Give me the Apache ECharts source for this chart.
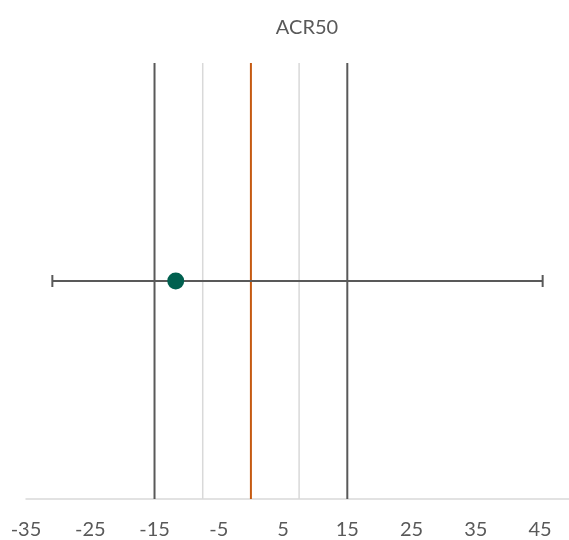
<!DOCTYPE html>
<html>
<head>
<meta charset="utf-8">
<script src="https://cdn.jsdelivr.net/npm/echarts@6/dist/echarts.min.js"></script>
<style>
  html, body { margin: 0; padding: 0; background: #fff; }
  #chart { width: 569px; height: 540px; }
</style>
</head>
<body>
<div id="chart"></div>
<script>
// Estimate with confidence interval
const chartTitle = 'ACR50';
const estimate = -11.7;
const ciLower = -30.9;
const ciUpper = 45.4;
const rowY = 1;

// Reference lines: margins and zero line
const marginOuter = [-15, 15];
const marginInner = [-7.5, 7.5];
const zeroLine = 0;

// Axis settings (the axis is cut at the right edge of the canvas)
const xMin = -35;
const xMax = 49.5;
const xStep = 10;
const yMin = 0;
const yMax = 2;

const grey = '#595959';
const font = 'Lato, "Open Sans", sans-serif';

function vline(x, color, width) {
  return {
    type: 'line',
    data: [[x, yMin], [x, yMax]],
    symbol: 'none',
    lineStyle: { color: color, width: width },
    silent: true,
    z: 1
  };
}

const chart = echarts.init(document.getElementById('chart'), null, { renderer: 'canvas' });

chart.setOption({
  animation: false,
  title: {
    text: chartTitle,
    left: 302,
    textAlign: 'center',
    top: 13,
    textStyle: { color: grey, fontFamily: font, fontSize: 20, fontWeight: 'normal' }
  },
  grid: { left: 26, right: 0, top: 63, bottom: 40, containLabel: false },
  xAxis: {
    type: 'value',
    min: xMin,
    max: xMax,
    interval: xStep,
    axisLine: { show: true, lineStyle: { color: '#d9d9d9', width: 1.5 } },
    axisTick: { show: false },
    splitLine: { show: false },
    axisLabel: {
      color: grey, fontFamily: font, fontSize: 20, margin: 21,
      showMaxLabel: false
    }
  },
  yAxis: {
    type: 'value',
    min: yMin,
    max: yMax,
    show: false
  },
  series: [
    vline(marginOuter[0], grey, 2),
    vline(marginOuter[1], grey, 2),
    vline(marginInner[0], '#d9d9d9', 1.5),
    vline(marginInner[1], '#d9d9d9', 1.5),
    vline(zeroLine, '#c55a11', 2),
    {
      type: 'custom',
      data: [[ciLower, ciUpper, rowY]],
      z: 3,
      renderItem: function (params, api) {
        const lo = api.coord([api.value(0), api.value(2)]);
        const hi = api.coord([api.value(1), api.value(2)]);
        const cap = 6;
        const style = { stroke: grey, lineWidth: 2 };
        return {
          type: 'group',
          children: [
            { type: 'line', shape: { x1: lo[0], y1: lo[1], x2: hi[0], y2: hi[1] }, style: style },
            { type: 'line', shape: { x1: lo[0], y1: lo[1] - cap, x2: lo[0], y2: lo[1] + cap }, style: style },
            { type: 'line', shape: { x1: hi[0], y1: hi[1] - cap, x2: hi[0], y2: hi[1] + cap }, style: style }
          ]
        };
      }
    },
    {
      type: 'scatter',
      data: [[estimate, rowY]],
      symbol: 'circle',
      symbolSize: 17,
      itemStyle: { color: '#00604f', opacity: 1 },
      z: 4
    }
  ]
});
</script>
</body>
</html>
